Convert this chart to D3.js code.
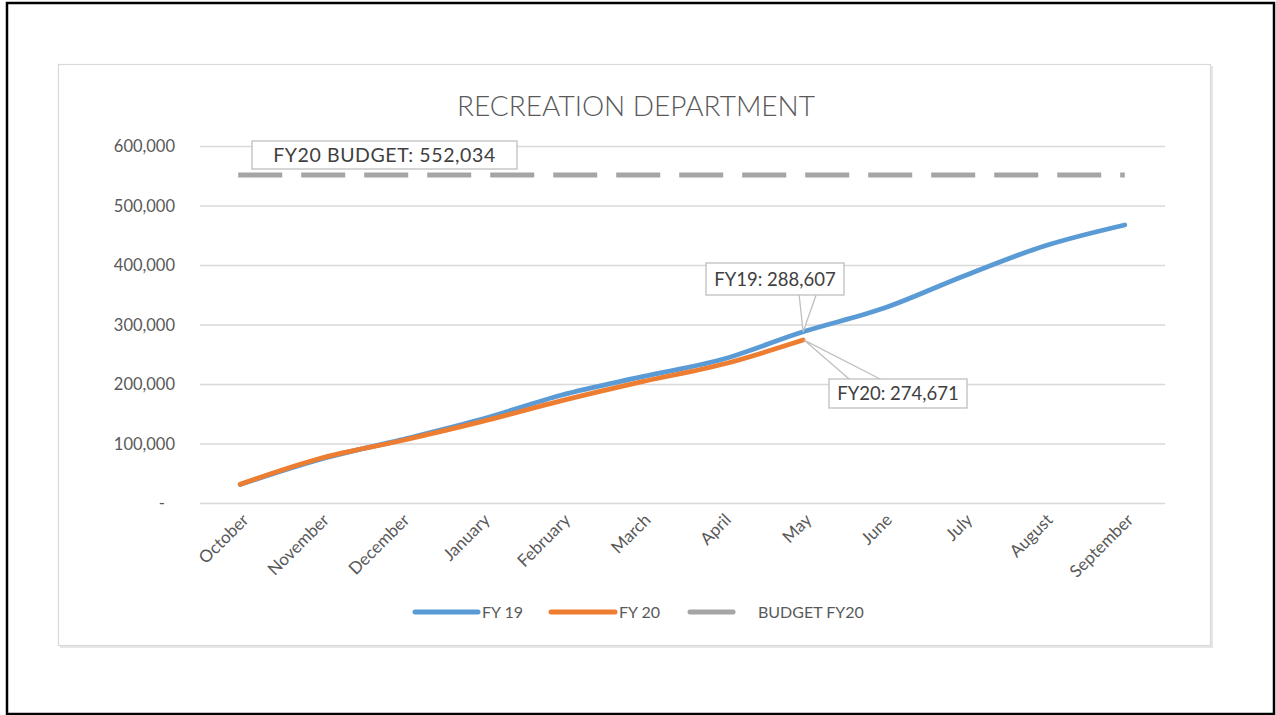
<!DOCTYPE html>
<html><head><meta charset="utf-8">
<script src="https://cdnjs.cloudflare.com/ajax/libs/d3/7.8.5/d3.min.js"></script>
<style>
body{margin:0;background:#fff;}
text{font-family:Lato,"Open Sans",sans-serif;}
</style></head>
<body><svg id="c" width="1276" height="715"></svg>
<script>
const months = ["October","November","December","January","February","March","April","May","June","July","August","September"];
const fy19 = [32000,74500,107000,141500,182400,213100,242400,288607,328000,382400,432800,468100];
const fy20 = [32300,76000,105500,137500,172800,204700,234000,274671];
const budget = 552034;
const yTicks = [0,100000,200000,300000,400000,500000,600000];
const seriesNames = ["FY 19","FY 20","BUDGET FY20"];
const colors = ["#5b9bd5","#ed7d31","#a5a5a5"];

const svg = d3.select("#c");
// outer frame
svg.append("rect").attr("x",7).attr("y",3).attr("width",1267).attr("height",711)
  .attr("fill","none").attr("stroke","#000").attr("stroke-width",2.5);
// chart panel with shadow
svg.append("rect").attr("x",60).attr("y",66).attr("width",1153).attr("height",582).attr("fill","#e6e6e6");
svg.append("rect").attr("x",58.5).attr("y",64.5).attr("width",1152).attr("height",581)
  .attr("fill","#fff").attr("stroke","#d9d9d9").attr("stroke-width",1.2);

const x = d3.scalePoint().domain(months).range([200,1165]).padding(0.5);
const y = d3.scaleLinear().domain([0,600000]).range([503.5,146.5]);

svg.append("text").attr("x",636).attr("y",116).attr("text-anchor","middle")
  .attr("font-size",28).attr("font-weight",300).attr("fill","#595959").text("RECREATION DEPARTMENT");

// gridlines
svg.append("g").selectAll("line").data(yTicks).join("line")
  .attr("x1",200).attr("x2",1165).attr("y1",d=>y(d)).attr("y2",d=>y(d))
  .attr("stroke","#d9d9d9").attr("stroke-width",1.3);

// y axis labels
const yAxis = d3.axisLeft(y).tickValues(yTicks).tickSize(0).tickPadding(0)
  .tickFormat(d=> d===0 ? "-" : d3.format(",")(d));
const ga = svg.append("g").attr("transform","translate(175,0)").call(yAxis);
ga.select(".domain").remove();
ga.selectAll("text").attr("font-size",16.5).attr("fill","#595959").attr("font-family","Lato")
  .attr("dx",d=>d===0?-10:0);

// x axis labels
const xAxis = d3.axisBottom(x).tickSize(0).tickPadding(0);
const gx = svg.append("g").attr("transform","translate(0,516)").call(xAxis);
gx.select(".domain").remove();
gx.selectAll("text").attr("font-size",17).attr("fill","#595959").attr("font-family","Lato")
  .attr("text-anchor","end").attr("dy",0)
  .attr("transform","translate(9,5) rotate(-45)");

// budget line
svg.append("line").attr("x1",x(months[0])-2).attr("x2",x(months[11])).attr("y1",y(budget)).attr("y2",y(budget))
  .attr("stroke",colors[2]).attr("stroke-width",5).attr("stroke-dasharray","44,19");

const line = d3.line().x((d,i)=>x(months[i])).y(d=>y(d)).curve(d3.curveMonotoneX);
svg.append("path").datum(fy19).attr("d",line).attr("fill","none").attr("stroke",colors[0])
  .attr("stroke-width",4.8).attr("stroke-linecap","round").attr("stroke-linejoin","round");
svg.append("path").datum(fy20).attr("d",line).attr("fill","none").attr("stroke",colors[1])
  .attr("stroke-width",4.8).attr("stroke-linecap","round").attr("stroke-linejoin","round");

// callouts
function callout(px,py,bx,by,bw,bh,w1,w2,label){
  const g = svg.append("g");
  g.append("path").attr("d",`M${w1[0]},${w1[1]}L${px},${py}L${w2[0]},${w2[1]}`)
    .attr("fill","#fff").attr("stroke","#bfbfbf").attr("stroke-width",1.3);
  g.append("rect").attr("x",bx).attr("y",by).attr("width",bw).attr("height",bh)
    .attr("fill","#fff").attr("stroke","#bfbfbf").attr("stroke-width",1.3);
  g.append("text").attr("x",bx+bw/2).attr("y",by+bh/2+6.5).attr("text-anchor","middle")
    .attr("font-size",18.5).attr("fill","#404040").text(label);
}
// budget label
svg.append("rect").attr("x",252).attr("y",141).attr("width",265).attr("height",28)
  .attr("fill","#fff").attr("stroke","#bfbfbf").attr("stroke-width",1.3);
svg.append("text").attr("x",384.5).attr("y",162).attr("text-anchor","middle")
  .attr("font-size",19.5).attr("letter-spacing",0.6).attr("fill","#404040").text("FY20 BUDGET: " + d3.format(",")(budget));

const mx = x("May");
const p19 = y(fy19[7]), p20 = y(fy20[7]);
callout(mx, p19, 706, 263, 138, 32, [mx-4,295],[mx+13,295], "FY19: " + d3.format(",")(fy19[7]));
callout(mx+1, p20, 829, 379, 138, 29, [mx+46,379],[mx+77,379], "FY20: " + d3.format(",")(fy20[7]));

// legend
const leg = [[415,478,482],[551,615,619],[690,733,758]];
leg.forEach((l,i)=>{
  svg.append("line").attr("x1",l[0]).attr("x2",l[1]).attr("y1",612).attr("y2",612)
    .attr("stroke",colors[i]).attr("stroke-width",5).attr("stroke-linecap","round");
  svg.append("text").attr("x",l[2]).attr("y",618).attr("font-size",16).attr("fill","#595959").text(seriesNames[i]);
});
</script></body></html>
